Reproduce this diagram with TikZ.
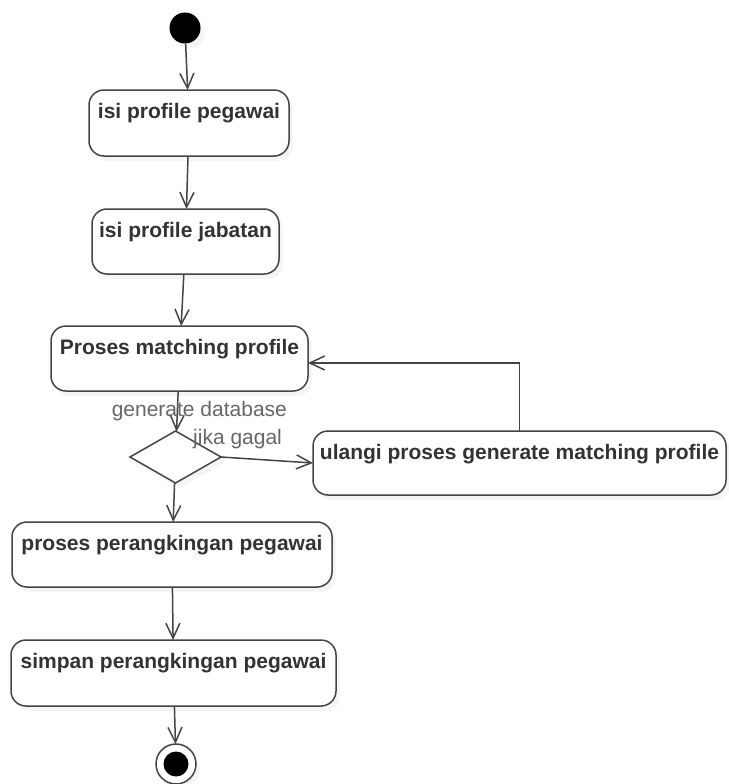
\documentclass[tikz,border=0pt]{standalone}
\usepackage{fontspec}
\setmainfont{Liberation Sans}
\usepackage{xcolor}
\usepackage{tikz}
\usetikzlibrary{positioning, shapes.geometric, arrows.meta, shadows}

\definecolor{linegray}{HTML}{444444}
\definecolor{txtgray}{HTML}{333333}
\definecolor{lblgray}{HTML}{666666}

\begin{document}
\begin{tikzpicture}[node distance=52pt,
    font=\fontsize{21}{25}\selectfont,
    every node/.style={outer sep=0pt},
    shade/.style={drop shadow={shadow xshift=4pt, shadow yshift=-5pt, opacity=0.08}},
    act/.style={draw=linegray, line width=1.5pt, rounded corners=15pt, fill=white, shade, text=txtgray, font=\fontsize{21}{25}\selectfont\bfseries, inner xsep=0pt, inner ysep=0pt, text height=28pt, text depth=37pt},
    flow/.style={draw=linegray, line width=1.5pt, -{Straight Barb[length=15pt, width=14pt]}},
    lbl/.style={text=lblgray, inner sep=0pt}]
    \useasboundingbox (0,0) rectangle (728pt,-784pt);

    \node[circle, fill=black, minimum size=31pt, inner sep=0pt, shade] (start) at (185pt,-28pt) {};
    \node[act, minimum width=200pt, text depth=38pt, below=46.5pt of start, xshift=4pt] (pegawai) {isi profile pegawai};
    \node[act, minimum width=187pt, below=53pt of pegawai, xshift=-3.5pt] (jabatan) {isi profile jabatan};
    \node[act, minimum width=257pt, below=of jabatan, xshift=-6pt] (proses) {Proses matching profile};
    \node[diamond, draw=linegray, line width=1.5pt, fill=white, shade, minimum width=91pt, minimum height=52pt, inner sep=0pt, below=40pt of proses, xshift=-4pt] (cek) {};
    \node[act, minimum width=413pt, text depth=36pt, right=92pt of cek, yshift=-6pt] (ulangi) {ulangi proses generate matching profile};
    \node[act, minimum width=320pt, below=39pt of cek, xshift=-3.5pt] (rangking) {proses perangkingan pegawai};
    \node[act, minimum width=325pt, text depth=38pt, below=53pt of rangking, xshift=1.5pt] (simpan) {simpan perangkingan pegawai};
    \node[circle, draw=linegray, line width=1.5pt, fill=white, shade, minimum size=40pt, inner sep=0pt, below=38pt of simpan, xshift=2.5pt,
        path picture={\fill[black] (path picture bounding box.center) circle (12.5pt);}] (finish) {};

    \draw[flow] (start) -- (pegawai);
    \draw[flow] (pegawai) -- (jabatan);
    \draw[flow] (jabatan) -- (proses);
    \draw[flow] (proses) -- node[lbl, xshift=22pt]{generate database} (cek);
    \draw[flow] (cek.east) -- node[lbl, pos=0.18, above=9pt]{jika gagal} (ulangi.west);
    \draw[flow] (ulangi.north) |- ([yshift=-4.5pt]proses.east);
    \draw[flow] (cek) -- (rangking);
    \draw[flow] (rangking) -- (simpan);
    \draw[flow] (simpan) -- (finish);
\end{tikzpicture}
\end{document}
